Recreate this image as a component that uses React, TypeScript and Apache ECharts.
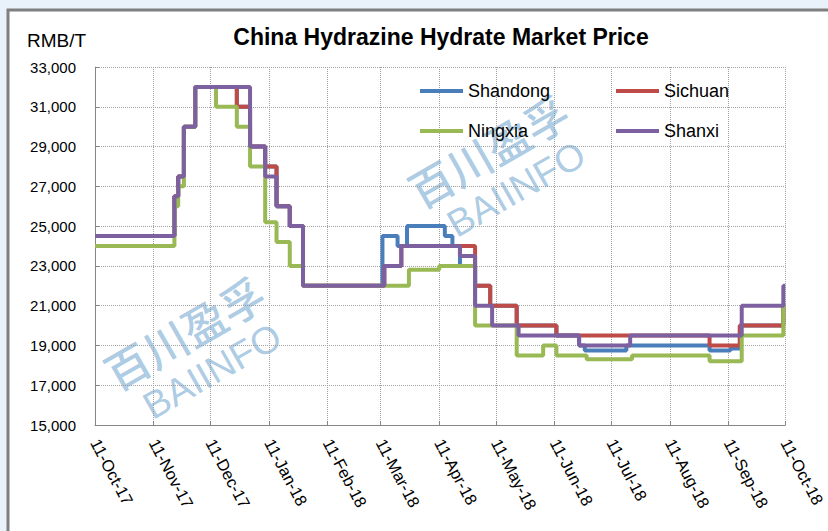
import React, { useEffect, useRef } from "react";
import * as echarts from "echarts";

const chartTitle = "China Hydrazine Hydrate Market Price";
const unitLabel = "RMB/T";
const seriesNames = ["Shandong", "Sichuan", "Ningxia", "Shanxi"];
const seriesColors = ["#4A7EBB", "#BE4B48", "#98B954", "#7D60A0"];

const tickDates = [
  "2017-10-11", "2017-11-11", "2017-12-11", "2018-01-11", "2018-02-11", "2018-03-11",
  "2018-04-11", "2018-05-11", "2018-06-11", "2018-07-11", "2018-08-11", "2018-09-11", "2018-10-11",
];
const tickLabels = [
  "11-Oct-17", "11-Nov-17", "11-Dec-17", "11-Jan-18", "11-Feb-18", "11-Mar-18",
  "11-Apr-18", "11-May-18", "11-Jun-18", "11-Jul-18", "11-Aug-18", "11-Sep-18", "11-Oct-18",
];

// [date the price changed, new price]
const shandong: [string, number][] = [
  ["2017-10-11", 24500], ["2017-11-22", 26500], ["2017-11-24", 27500], ["2017-11-27", 30000],
  ["2017-12-03", 32000], ["2017-12-25", 31000], ["2018-01-01", 29000], ["2018-01-09", 28000],
  ["2018-01-15", 26000], ["2018-01-22", 25000], ["2018-01-29", 22000], ["2018-03-12", 24500],
  ["2018-03-20", 24000], ["2018-03-25", 25000], ["2018-04-14", 24500], ["2018-04-18", 24000],
  ["2018-04-22", 23000], ["2018-04-30", 22000], ["2018-05-08", 21000], ["2018-05-22", 20000],
  ["2018-06-12", 19500], ["2018-06-24", 19000], ["2018-06-27", 18750], ["2018-07-19", 19000],
  ["2018-09-01", 18750], ["2018-09-12", 18850], ["2018-09-17", 20000], ["2018-10-10", 21000],
  ["2018-10-11", 21000],
];
const sichuan: [string, number][] = [
  ["2017-10-11", 24500], ["2017-11-22", 26500], ["2017-11-24", 27500], ["2017-11-27", 30000],
  ["2017-12-03", 32000], ["2017-12-25", 31000], ["2018-01-01", 29000], ["2018-01-09", 28000],
  ["2018-01-15", 26000], ["2018-01-22", 25000], ["2018-01-29", 22000], ["2018-03-13", 23000],
  ["2018-03-22", 24000], ["2018-04-30", 22000], ["2018-05-08", 21000], ["2018-05-22", 20000],
  ["2018-06-12", 19500], ["2018-09-01", 19000], ["2018-09-17", 20000], ["2018-10-10", 21000],
  ["2018-10-11", 21000],
];
const ningxia: [string, number][] = [
  ["2017-10-11", 24000], ["2017-11-22", 26000], ["2017-11-24", 27000], ["2017-11-27", 30000],
  ["2017-12-03", 32000], ["2017-12-14", 31000], ["2017-12-25", 30000], ["2018-01-01", 28000],
  ["2018-01-09", 25200], ["2018-01-15", 24200], ["2018-01-22", 23000], ["2018-01-29", 22000],
  ["2018-03-26", 22800], ["2018-04-11", 23000], ["2018-04-30", 20000], ["2018-05-22", 18500],
  ["2018-06-05", 19000], ["2018-06-12", 18500], ["2018-06-28", 18300], ["2018-07-22", 18500],
  ["2018-09-01", 18200], ["2018-09-18", 19500], ["2018-10-10", 21000], ["2018-10-11", 21000],
];
const shanxi: [string, number][] = [
  ["2017-10-11", 24500], ["2017-11-22", 26500], ["2017-11-24", 27500], ["2017-11-27", 30000],
  ["2017-12-03", 32000], ["2018-01-01", 29000], ["2018-01-09", 27500], ["2018-01-15", 26000],
  ["2018-01-22", 25000], ["2018-01-29", 22000], ["2018-03-13", 23000], ["2018-03-22", 24000],
  ["2018-04-22", 23500], ["2018-04-30", 21000], ["2018-05-09", 20000], ["2018-05-23", 19500],
  ["2018-06-24", 19000], ["2018-07-21", 19500], ["2018-09-18", 21000], ["2018-10-10", 22000],
  ["2018-10-11", 22000],
];
const seriesData = [shandong, sichuan, ningxia, shanxi];

const yMin = 15000;
const yMax = 33000;
const yStep = 2000;

const watermarkCn = "百川盈孚";
const watermarkEn = "BAIINFO";

const toTime = (s: string) => {
  const [y, m, d] = s.split("-").map(Number);
  return Date.UTC(y, m - 1, d);
};

export default function App() {
  const ref = useRef<HTMLDivElement>(null);

  useEffect(() => {
    if (!ref.current) return;
    const chart = echarts.init(ref.current, null, { renderer: "svg" });
    const tickTimes = tickDates.map(toTime);
    const font = "Liberation Sans, Arial, sans-serif";
    const wmColor = "rgba(70,140,192,0.45)";

    const watermark = (x: number, y: number) => ({
      type: "group",
      x,
      y,
      rotation: 0.52,
      z: 50,
      silent: true,
      children: [
        {
          type: "text",
          x: 0,
          y: 0,
          style: {
            text: watermarkCn,
            fill: wmColor,
            font: "500 44px 'Noto Sans CJK SC'",
            align: "center",
            verticalAlign: "middle",
          },
        },
        {
          type: "text",
          x: 5,
          y: 48,
          style: {
            text: watermarkEn,
            fill: wmColor,
            font: "38px 'Liberation Sans'",
            align: "center",
            verticalAlign: "middle",
          },
        },
      ],
    });

    const legendBase = {
      orient: "vertical",
      top: 82,
      padding: 0,
      itemGap: 22,
      itemWidth: 43,
      itemHeight: 4,
      icon: "rect",
      textStyle: { fontSize: 18, color: "#000", fontFamily: font },
    };

    chart.setOption({
      animation: false,
      backgroundColor: "#E9F2FA",
      textStyle: { fontFamily: font },
      legend: [
        { ...legendBase, left: 420, data: [seriesNames[0], seriesNames[2]] },
        { ...legendBase, left: 616, data: [seriesNames[1], seriesNames[3]] },
      ],
      grid: { left: 95, right: 42, top: 67, bottom: 106 },
      xAxis: {
        type: "value",
        min: tickTimes[0],
        max: tickTimes[tickTimes.length - 1],
        axisLine: { lineStyle: { color: "#868686", width: 1 } },
        axisTick: { show: true, inside: true, length: 4, customValues: tickTimes, lineStyle: { color: "#868686" } },
        axisLabel: {
          customValues: tickTimes,
          formatter: (v: number) => {
            const i = tickTimes.indexOf(v);
            return i >= 0 ? tickLabels[i] : "";
          },
          rotate: -62,
          margin: 15,
          fontSize: 16.5,
          color: "#000",
          fontFamily: font,
        },
        splitLine: { show: true, lineStyle: { type: "dotted", color: "#A0A0A0", width: 1 } },
      },
      yAxis: {
        type: "value",
        min: yMin,
        max: yMax,
        interval: yStep,
        axisLine: { show: true, lineStyle: { color: "#868686", width: 1 } },
        axisTick: { show: true, inside: true, length: 4, lineStyle: { color: "#868686" } },
        axisLabel: {
          formatter: (v: number) => v.toLocaleString("en-US"),
          margin: 19,
          fontSize: 15,
          color: "#000",
          fontFamily: font,
        },
        splitLine: { show: true, lineStyle: { type: "dotted", color: "#A0A0A0", width: 1 } },
      },
      graphic: [
        {
          type: "rect",
          z: -10,
          silent: true,
          shape: { x: 8, y: 10, width: 840, height: 540 },
          style: { fill: "#FFFFFF", stroke: "#7F7F7F", lineWidth: 3 },
        },
        {
          type: "text",
          x: 441,
          y: 37,
          style: {
            text: chartTitle,
            fill: "#000",
            font: `bold 23px ${font}`,
            align: "center",
            verticalAlign: "middle",
          },
        },
        {
          type: "text",
          x: 27,
          y: 40,
          style: {
            text: unitLabel,
            fill: "#000",
            font: `19px ${font}`,
            align: "left",
            verticalAlign: "middle",
          },
        },
        watermark(184, 332),
        watermark(488, 150),
      ],
      series: seriesNames.map((name, i) => ({
        name,
        type: "line",
        step: "end",
        showSymbol: false,
        symbol: "none",
        color: seriesColors[i],
        lineStyle: { width: 4, color: seriesColors[i] },
        data: seriesData[i].map(([d, v]) => [toTime(d), v]),
      })),
    });

    return () => chart.dispose();
  }, []);

  return (
    <div
      ref={ref}
      style={{ position: "fixed", left: 0, top: 0, width: 828, height: 531 }}
    />
  );
}
